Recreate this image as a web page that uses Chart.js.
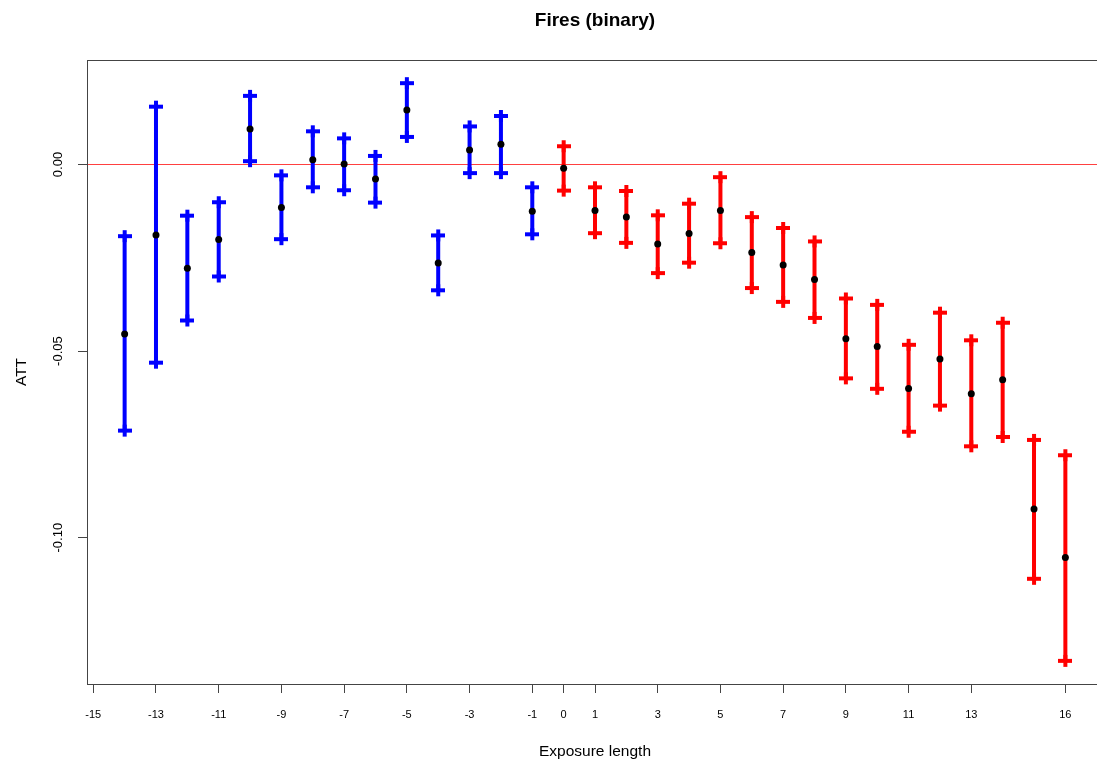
<!DOCTYPE html>
<html>
<head>
<meta charset="utf-8">
<title>Fires (binary)</title>
<script src="https://cdn.jsdelivr.net/npm/chart.js@4/dist/chart.umd.min.js"></script>
<style>
  html, body { margin: 0; padding: 0; background: #ffffff; overflow: hidden; }
  /* plotting device is slightly wider than the view; its right frame edge falls just outside */
  #wrap { width: 1104px; height: 763px; position: relative; }
</style>
</head>
<body>
<div id="wrap"><canvas id="chart"></canvas></div>
<script>
// Pre-treatment periods (blue) and post-treatment periods (red)
const prePeriods = [-14, -13, -12, -11, -10, -9, -8, -7, -6, -5, -4, -3, -2, -1];
const preAtt     = [-0.0454, -0.0189, -0.0278, -0.0201, 0.0095, -0.0115, 0.0013, 0.0001, -0.0039, 0.0146, -0.0264, 0.0039, 0.0054, -0.0125];
const preLower   = [-0.0713, -0.0531, -0.0418, -0.0300, 0.0009, -0.0200, -0.0061, -0.0069, -0.0102, 0.0074, -0.0337, -0.0023, -0.0023, -0.0187];
const preUpper   = [-0.0192, 0.0155, -0.0137, -0.0101, 0.0184, -0.0029, 0.0089, 0.0070, 0.0023, 0.0218, -0.0190, 0.0102, 0.0130, -0.0061];

const postPeriods = [0, 1, 2, 3, 4, 5, 6, 7, 8, 9, 10, 11, 12, 13, 14, 15, 16];
const postAtt     = [-0.0010, -0.0123, -0.0141, -0.0213, -0.0185, -0.0123, -0.0236, -0.0269, -0.0308, -0.0467, -0.0488, -0.0600, -0.0521, -0.0614, -0.0577, -0.0923, -0.1053];
const postLower   = [-0.0070, -0.0184, -0.0210, -0.0291, -0.0263, -0.0211, -0.0331, -0.0368, -0.0411, -0.0573, -0.0601, -0.0716, -0.0646, -0.0755, -0.0730, -0.1110, -0.1330];
const postUpper   = [0.0049, -0.0061, -0.0071, -0.0136, -0.0105, -0.0034, -0.0141, -0.0170, -0.0206, -0.0359, -0.0376, -0.0483, -0.0397, -0.0471, -0.0424, -0.0738, -0.0779];

const xTickValues = [-15, -13, -11, -9, -7, -5, -3, -1, 0, 1, 3, 5, 7, 9, 11, 13, 16];
const yTickValues = [-0.10, -0.05, 0.00];
const referenceLevel = 0;
const chartTitle = 'Fires (binary)';

const FONT = 'Liberation Sans, Arial, Helvetica, sans-serif';
const PRE_COLOR = '#0000ff';
const POST_COLOR = '#ff0000';
const AXIS_COLOR = '#444444';

// Vertical interval segments, broken between periods
function stems(periods, lower, upper) {
  const pts = [];
  periods.forEach((p, i) => {
    pts.push({ x: p, y: lower[i] });
    pts.push({ x: p, y: upper[i] });
    pts.push({ x: p, y: null });
  });
  return pts;
}
// End caps at both interval limits
function caps(periods, lower, upper) {
  const pts = [];
  periods.forEach((p, i) => {
    pts.push({ x: p, y: lower[i] });
    pts.push({ x: p, y: upper[i] });
  });
  return pts;
}
function points(periods, values) {
  return periods.map((p, i) => ({ x: p, y: values[i] }));
}

// Cross-shaped end cap: a short horizontal bar with the stem poking through
function capGlyph(color) {
  const c = document.createElement('canvas');
  c.width = 14; c.height = 14;
  const g = c.getContext('2d');
  g.fillStyle = color;
  g.fillRect(0, 5, 14, 4);   // horizontal bar
  g.fillRect(5, 1, 4, 12);   // stem overshoot
  return c;
}

// Plot frame, zero reference line and a title centred over the plotting region
const framePlugin = {
  id: 'frame',
  beforeDatasetsDraw(chart) {
    const { ctx, chartArea: a, scales } = chart;
    const y = Math.round(scales.y.getPixelForValue(referenceLevel)) + 0.5;
    ctx.save();
    ctx.strokeStyle = 'rgba(255,0,0,0.75)';
    ctx.lineWidth = 1;
    ctx.beginPath();
    ctx.moveTo(a.left, y);
    ctx.lineTo(a.right, y);
    ctx.stroke();
    ctx.restore();
  },
  afterDraw(chart) {
    const { ctx, chartArea: a } = chart;
    ctx.save();
    ctx.strokeStyle = AXIS_COLOR;
    ctx.lineWidth = 1;
    ctx.strokeRect(Math.round(a.left) + 0.5, Math.round(a.top) + 0.5,
                   Math.round(a.right - a.left) - 1, Math.round(a.bottom - a.top));
    ctx.fillStyle = '#000';
    ctx.font = 'bold 19px ' + FONT;
    ctx.textAlign = 'center';
    ctx.textBaseline = 'middle';
    ctx.fillText(chartTitle, (a.left + a.right) / 2, 21);
    ctx.restore();
  }
};

const stemStyle = (color) => ({
  showLine: true, borderColor: color, borderWidth: 4, borderCapStyle: 'butt',
  pointRadius: 0, pointHoverRadius: 0, spanGaps: false, fill: false
});
const capStyle = (color) => ({
  showLine: false, pointStyle: capGlyph(color), pointRadius: 7,
  borderColor: color, backgroundColor: color
});

new Chart(document.getElementById('chart'), {
  type: 'scatter',
  data: {
    datasets: [
      { label: 'ATT pre', data: points(prePeriods, preAtt), pointRadius: 3.5,
        backgroundColor: '#000', borderColor: '#000', borderWidth: 0, showLine: false },
      { label: 'ATT post', data: points(postPeriods, postAtt), pointRadius: 3.5,
        backgroundColor: '#000', borderColor: '#000', borderWidth: 0, showLine: false },
      { label: 'caps pre', data: caps(prePeriods, preLower, preUpper), ...capStyle(PRE_COLOR) },
      { label: 'caps post', data: caps(postPeriods, postLower, postUpper), ...capStyle(POST_COLOR) },
      { label: 'CI pre', data: stems(prePeriods, preLower, preUpper), ...stemStyle(PRE_COLOR) },
      { label: 'CI post', data: stems(postPeriods, postLower, postUpper), ...stemStyle(POST_COLOR) }
    ]
  },
  options: {
    responsive: true,
    maintainAspectRatio: false,
    animation: false,
    events: [],
    layout: { autoPadding: false, padding: { top: 60, right: 1, bottom: 0, left: 0 } },
    plugins: {
      legend: { display: false },
      tooltip: { enabled: false },
      title: { display: false }
    },
    scales: {
      x: {
        type: 'linear',
        min: -15.2,
        max: 17.2,
        afterBuildTicks(scale) { scale.ticks = xTickValues.map(v => ({ value: v })); },
        afterFit(scale) {
          scale.height = 79;
          scale.paddingLeft = 0;
          scale.paddingRight = 0;
        },
        border: { display: false },
        grid: { drawOnChartArea: false, drawTicks: true, tickLength: 9, color: AXIS_COLOR, tickWidth: 1 },
        ticks: {
          autoSkip: false, maxRotation: 0, minRotation: 0, padding: 15,
          color: '#000', font: { family: FONT, size: 11 },
          callback: (v) => String(v)
        },
        title: {
          display: true, text: 'Exposure length', color: '#000',
          font: { family: FONT, size: 15.5, lineHeight: 1.2 },
          padding: { top: 0, bottom: 2 }
        }
      },
      y: {
        type: 'linear',
        min: -0.1392,
        max: 0.0280,
        afterBuildTicks(scale) { scale.ticks = yTickValues.map(v => ({ value: v })); },
        afterFit(scale) {
          scale.width = 87;
          scale.paddingTop = 0;
          scale.paddingBottom = 0;
        },
        border: { display: false },
        grid: { drawOnChartArea: false, drawTicks: true, tickLength: 9, color: AXIS_COLOR, tickWidth: 1 },
        ticks: {
          autoSkip: false, minRotation: 90, maxRotation: 90, padding: 5,
          crossAlign: 'center',
          color: '#000', font: { family: FONT, size: 13 },
          callback: (v) => Number(v).toFixed(2)
        },
        title: {
          display: true, text: 'ATT', color: '#000',
          font: { family: FONT, size: 15.5, lineHeight: 1.2 },
          padding: { top: 12, bottom: 0 }
        }
      }
    }
  },
  plugins: [framePlugin]
});
</script>
</body>
</html>
